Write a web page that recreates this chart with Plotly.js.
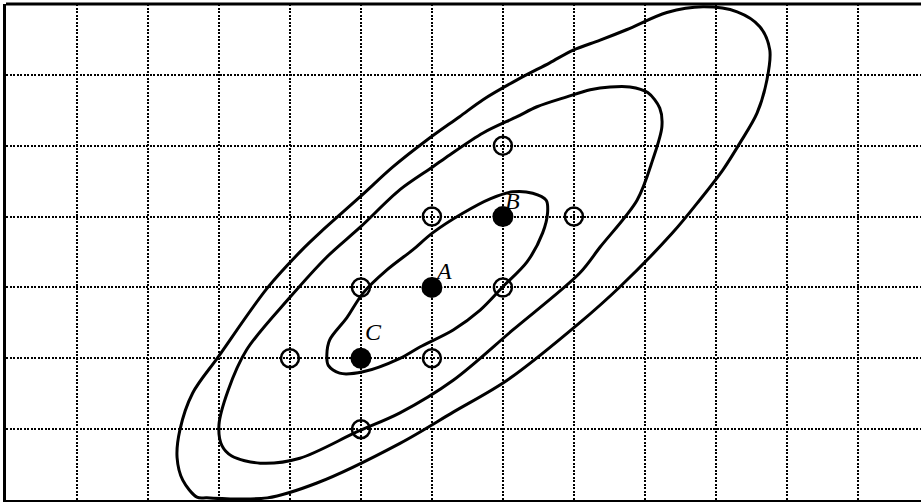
<!DOCTYPE html>
<html>
<head>
<meta charset="utf-8">
<script src="https://cdn.plot.ly/plotly-3.0.1.min.js"></script>
<style>
  html, body {margin: 0; padding: 0; background: #fff;}
  #chart {width: 921px; height: 502px;}
</style>
</head>
<body>
<div id="chart"></div>
<script>
// contour curves (grid units)
const outerX = [2.69, 2.49, 2.41, 2.45, 2.63, 2.99, 3.68, 4.17, 4.42, 4.99, 5.45, 5.93, 6.39, 6.72, 7.20, 7.66, 7.99, 8.37, 8.75, 9.31, 9.82, 10.30, 10.62, 10.76, 10.72, 10.58, 10.34, 10.10, 9.77, 9.39, 8.65, 8.08, 7.06, 6.30, 5.55, 4.38, 3.68, 2.83, 2.69];
const outerY = [0.04, 0.28, 0.60, 0.99, 1.51, 2.02, 2.99, 3.53, 3.77, 4.28, 4.70, 5.08, 5.41, 5.65, 5.93, 6.17, 6.35, 6.49, 6.64, 6.88, 6.96, 6.89, 6.68, 6.35, 5.93, 5.46, 5.04, 4.66, 4.23, 3.77, 3.01, 2.50, 1.69, 1.24, 0.80, 0.24, 0.03, 0.03, 0.04];

const middleX = [3.39, 3.13, 3.00, 3.04, 3.18, 3.58, 4.14, 4.94, 5.55, 6.30, 7.14, 8.08, 8.37, 8.89, 9.11, 9.24, 9.21, 9.04, 8.79, 8.51, 8.23, 7.90, 7.48, 7.20, 6.72, 6.25, 6.01, 5.55, 4.99, 4.52, 4.00, 3.39];
const middleY = [2.12, 1.55, 1.06, 0.77, 0.62, 0.52, 0.59, 0.96, 1.23, 1.69, 2.40, 3.20, 3.57, 4.23, 4.80, 5.27, 5.53, 5.75, 5.83, 5.83, 5.79, 5.69, 5.55, 5.41, 5.18, 4.87, 4.70, 4.38, 3.85, 3.43, 2.86, 2.12];

const innerX = [4.52, 4.56, 4.80, 5.03, 5.37, 5.73, 6.01, 6.44, 6.82, 7.14, 7.42, 7.61, 7.63, 7.56, 7.34, 7.00, 6.68, 6.30, 5.83, 5.55, 5.03, 4.70, 4.54, 4.52];
const innerY = [2.05, 2.26, 2.57, 2.92, 3.25, 3.53, 3.77, 4.05, 4.25, 4.35, 4.33, 4.23, 4.06, 3.77, 3.36, 3.01, 2.68, 2.40, 2.16, 2.00, 1.81, 1.79, 1.90, 2.05];

// trial points (open) and labelled points (filled)
const openX = [6, 7, 8, 5, 7, 4, 6, 5];
const openY = [4, 5, 4, 3, 3, 2, 2, 1];
const pointLabels = ['A', 'B', 'C'];
const pointX = [6, 7, 5];
const pointY = [3, 4, 2];

const curve = (x, y) => ({
    x: x, y: y, type: 'scatter', mode: 'lines',
    line: {color: '#000', width: 3, shape: 'spline', smoothing: 0.9},
    hoverinfo: 'skip',
});

const data = [
    curve(outerX, outerY),
    curve(middleX, middleY),
    curve(innerX, innerY),
    {
        x: openX, y: openY, type: 'scatter', mode: 'markers',
        marker: {symbol: 'circle-open', size: 18, color: '#000', line: {width: 2.5, color: '#000'}},
    },
    {
        x: pointX, y: pointY, type: 'scatter', mode: 'markers',
        marker: {symbol: 'circle', size: 21, color: '#000'},
    },
];

const shifts = [[12, 16], [10, 16], [13, 26]];
const annotations = pointLabels.map((t, i) => ({
    x: pointX[i], y: pointY[i], text: t, showarrow: false,
    xshift: shifts[i][0], yshift: shifts[i][1],
    font: {family: 'Liberation Serif, Times New Roman, serif', size: 24, color: '#000', style: 'italic'},
}));

const grid = {
    showgrid: true, gridcolor: '#000', gridwidth: 2, griddash: '2px,1.5px',
    zeroline: false, showticklabels: false, ticks: '',
    showline: true, linecolor: '#000', linewidth: 3,
    dtick: 1, tick0: 0, fixedrange: true,
};

const layout = {
    width: 921, height: 502,
    margin: {l: 6, r: 0, t: 4, b: 2},
    paper_bgcolor: '#fff', plot_bgcolor: '#fff',
    showlegend: false,
    xaxis: Object.assign({}, grid, {range: [0, 12.89]}),
    yaxis: Object.assign({}, grid, {range: [0, 7]}),
    annotations: annotations,
    shapes: [{
        type: 'line', xref: 'paper', yref: 'paper', x0: 0, x1: 1, y0: 1, y1: 1,
        line: {color: '#000', width: 3},
    }],
};

Plotly.newPlot('chart', data, layout, {displayModeBar: false, staticPlot: true});
</script>
</body>
</html>
